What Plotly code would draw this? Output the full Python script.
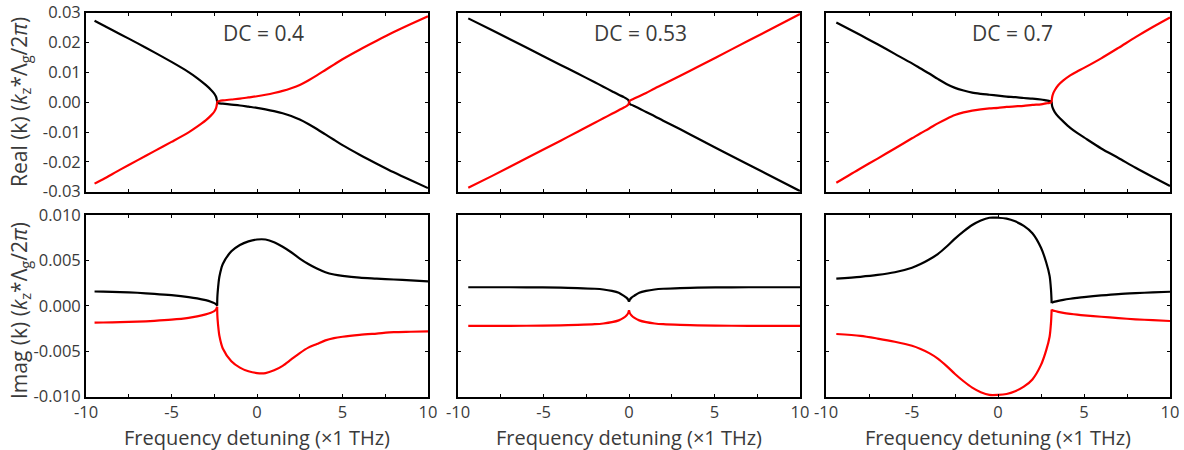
import plotly.graph_objects as go

# ---------------- tick labels / text ----------------
x_tickvals = [-10, -5, 0, 5, 10]
x_ticktext = ["-10", "-5", "0", "5", "10"]
re_tickvals = [-0.03, -0.02, -0.01, 0.0, 0.01, 0.02, 0.03]
re_ticktext = ["-0.03", "-0.02", "-0.01", "0.00", "0.01", "0.02", "0.03"]
im_tickvals = [-0.010, -0.005, 0.0, 0.005, 0.010]
im_ticktext = ["-0.010", "-0.005", "0.000", "0.005", "0.010"]
dc_labels = ["DC = 0.4", "DC = 0.53", "DC = 0.7"]
x_title = "Frequency detuning (×1 THz)"
re_title = "Real (k) (<i>k</i><sub>z</sub>*Λ<sub>g</sub>/2<i>π</i>)"
im_title = "Imag (k) (<i>k</i><sub>z</sub>*Λ<sub>g</sub>/2<i>π</i>)"

# ---------------- DC = 0.4 ----------------
dc04_x_left = [-9.5, -9, -8, -7, -6, -5, -4, -3.5, -3, -2.7, -2.5, -2.4, -2.36, -2.33]
dc04_x_right = [-2.33, -2.32, -2.3, -2.25, -2.2, -2.0, -1.5, -1.0, -0.5, 0.0, 0.5, 1.0, 1.5,
                2.0, 2.5, 3.0, 3.5, 4.0, 4.5, 5.0, 6.0, 7.0, 8.0, 9.0, 10.0]
dc04_re_black_left = [0.0273, 0.0258, 0.0228, 0.0198, 0.0167, 0.0135, 0.0101, 0.0081, 0.0058,
                      0.0042, 0.0029, 0.0019, 0.0011, 0.0001]
dc04_re_black_right = [0.0001, -0.0001, -0.0002, -0.0003, -0.0004, -0.0005, -0.0008, -0.0011,
                       -0.0015, -0.0019, -0.0024, -0.0030, -0.0037, -0.0046, -0.0058, -0.0073,
                       -0.0090, -0.0108, -0.0126, -0.0144, -0.0176, -0.0206, -0.0235, -0.0262, -0.0288]
dc04_re_red_left = [-0.0273, -0.0258, -0.0226, -0.0195, -0.0164, -0.0133, -0.0101, -0.0082,
                    -0.0061, -0.0045, -0.0032, -0.0021, -0.0012, -0.0001]
dc04_re_red_right = [-0.0001, 0.0001, 0.0002, 0.0003, 0.0004, 0.0006, 0.0009, 0.0012, 0.0016,
                     0.0020, 0.0025, 0.0031, 0.0038, 0.0047, 0.0058, 0.0073, 0.0090, 0.0108,
                     0.0126, 0.0144, 0.0176, 0.0206, 0.0235, 0.0262, 0.0288]
dc04_im_black_left = [0.00158, 0.00156, 0.00152, 0.00144, 0.00132, 0.00117, 0.00097, 0.00083,
                      0.00063, 0.00046, 0.0003, 0.00018, 0.0001, 0.0]
dc04_im_black_right = [0.0, 0.0009, 0.0015, 0.0025, 0.0032, 0.0046, 0.0060, 0.0067, 0.0071,
                       0.0073, 0.0073, 0.0070, 0.0065, 0.0059, 0.0052, 0.0046, 0.0041, 0.0037,
                       0.00345, 0.0033, 0.0031, 0.0030, 0.0029, 0.0028, 0.0027]
dc04_im_red_left = [-0.00185, -0.00183, -0.0018, -0.00174, -0.00165, -0.00152, -0.00132, -0.00116,
                    -0.00094, -0.00076, -0.00058, -0.00042, -0.00026, -0.0001]
dc04_im_red_right = [-0.0001, -0.0010, -0.0016, -0.0026, -0.0033, -0.0047, -0.0061, -0.0068,
                     -0.0072, -0.0074, -0.0074, -0.0071, -0.0066, -0.0059, -0.0052, -0.0046,
                     -0.0042, -0.0038, -0.00355, -0.0034, -0.0032, -0.00305, -0.0029, -0.00285, -0.0028]

# ---------------- DC = 0.53 ----------------
dc053_x_left = [-9.4, -8, -6, -4, -3, -2, -1.5, -1, -0.6, -0.3, -0.15, -0.05, 0.0]
dc053_x_right = [0.0, 0.05, 0.15, 0.3, 0.6, 1, 1.5, 2, 3, 4, 6, 8, 10]
dc053_re_black_left = [0.0281, 0.0241, 0.0183, 0.0125, 0.0096, 0.0067, 0.0052, 0.0037, 0.0025,
                       0.0017, 0.0012, 0.0008, 0.0001]
dc053_re_black_right = [0.0001, -0.0006, -0.0009, -0.0013, -0.0021, -0.0033, -0.0047, -0.0062,
                        -0.0091, -0.0121, -0.0180, -0.0239, -0.0298]
dc053_re_red_left = [-0.0287, -0.0247, -0.0188, -0.0129, -0.0099, -0.0069, -0.0054, -0.0039,
                     -0.0027, -0.0018, -0.0013, -0.0009, -0.0001]
dc053_re_red_right = [-0.0001, 0.0005, 0.0008, 0.0012, 0.0020, 0.0031, 0.0046, 0.0060, 0.0089,
                      0.0118, 0.0177, 0.0236, 0.0296]
dc053_im_black_left = [0.00205, 0.00205, 0.00204, 0.0020, 0.00196, 0.00188, 0.0018, 0.00165,
                       0.00145, 0.0011, 0.0009, 0.00068, 0.00045]
dc053_im_black_right = [0.00045, 0.00068, 0.0009, 0.0011, 0.00145, 0.00165, 0.0018, 0.00188,
                        0.00196, 0.0020, 0.00204, 0.00205, 0.00205]
dc053_im_red_left = [-0.0022, -0.0022, -0.00219, -0.00215, -0.0021, -0.00202, -0.00194, -0.0018,
                     -0.0016, -0.0013, -0.00105, -0.0008, -0.00048]
dc053_im_red_right = [-0.00048, -0.0008, -0.00105, -0.0013, -0.0016, -0.0018, -0.00194, -0.00202,
                      -0.0021, -0.00215, -0.00219, -0.0022, -0.0022]

# ---------------- DC = 0.7 ----------------
dc07_x_left = [-9.4, -8, -7, -6, -5, -4.5, -4, -3.5, -3, -2.5, -2, -1.5, -1, -0.5, 0, 0.5, 1, 1.5,
               2, 2.5, 2.8, 3.0, 3.08, 3.12]
dc07_x_right = [3.12, 3.14, 3.2, 3.3, 3.5, 3.8, 4.2, 4.6, 5, 6, 7, 8, 9, 10]
dc07_re_black_left = [0.0267, 0.0225, 0.0194, 0.0162, 0.0130, 0.0113, 0.0096, 0.0078, 0.0061,
                      0.0048, 0.0039, 0.0032, 0.0028, 0.0025, 0.0022, 0.0019, 0.0017, 0.0014,
                      0.0012, 0.0009, 0.0006, 0.0004, 0.0003, 0.0001]
dc07_re_black_right = [0.0001, -0.0011, -0.0022, -0.0033, -0.0048, -0.0065, -0.0086, -0.0103,
                       -0.0118, -0.0155, -0.0187, -0.0220, -0.0251, -0.0281]
dc07_re_red_left = [-0.0270, -0.0222, -0.0189, -0.0155, -0.0121, -0.0104, -0.0088, -0.0071,
                    -0.0056, -0.0043, -0.0034, -0.0028, -0.0024, -0.0021, -0.0019, -0.0016,
                    -0.0014, -0.0012, -0.0009, -0.0007, -0.0004, -0.0002, -0.0001, 0.0001]
dc07_re_red_right = [0.0001, 0.0014, 0.0028, 0.0040, 0.0057, 0.0073, 0.0090, 0.0103, 0.0115,
                     0.0147, 0.0182, 0.0218, 0.0252, 0.0284]
dc07_im_black_left = [0.0030, 0.0032, 0.0034, 0.0037, 0.0042, 0.0046, 0.0051, 0.0057, 0.0065,
                      0.0074, 0.0082, 0.0089, 0.0094, 0.0097, 0.0097, 0.0096, 0.0093, 0.0088,
                      0.0080, 0.0064, 0.0048, 0.0033, 0.0018, 0.0003]
dc07_im_black_right = [0.0003, 0.00035, 0.0004, 0.00046, 0.00055, 0.00066, 0.00078, 0.00088,
                       0.00097, 0.00115, 0.0013, 0.0014, 0.00148, 0.00155]
dc07_im_red_left = [-0.0031, -0.0033, -0.0036, -0.00395, -0.0044, -0.00475, -0.0052, -0.0058,
                    -0.0066, -0.0075, -0.0083, -0.0090, -0.0095, -0.0098, -0.0098, -0.0097,
                    -0.0094, -0.0089, -0.0081, -0.0065, -0.0049, -0.0034, -0.0019, -0.0004]
dc07_im_red_right = [-0.0004, -0.00045, -0.0005, -0.00057, -0.00066, -0.00077, -0.00088,
                     -0.00097, -0.00105, -0.0012, -0.00135, -0.00148, -0.00158, -0.00167]

BLACK = "#000000"
RED = "#ff0000"
TEXT = "#3a3a3a"
FONT = "Open Sans"

panels = [
    ("x", "y", dc04_x_left, dc04_x_right,
     [(dc04_re_black_left, dc04_re_black_right, BLACK), (dc04_re_red_left, dc04_re_red_right, RED)]),
    ("x2", "y2", dc053_x_left, dc053_x_right,
     [(dc053_re_black_left, dc053_re_black_right, BLACK), (dc053_re_red_left, dc053_re_red_right, RED)]),
    ("x3", "y3", dc07_x_left, dc07_x_right,
     [(dc07_re_black_left, dc07_re_black_right, BLACK), (dc07_re_red_left, dc07_re_red_right, RED)]),
    ("x4", "y4", dc04_x_left, dc04_x_right,
     [(dc04_im_black_left, dc04_im_black_right, BLACK), (dc04_im_red_left, dc04_im_red_right, RED)]),
    ("x5", "y5", dc053_x_left, dc053_x_right,
     [(dc053_im_black_left, dc053_im_black_right, BLACK), (dc053_im_red_left, dc053_im_red_right, RED)]),
    ("x6", "y6", dc07_x_left, dc07_x_right,
     [(dc07_im_black_left, dc07_im_black_right, BLACK), (dc07_im_red_left, dc07_im_red_right, RED)]),
]

fig = go.Figure()
for xa, ya, xl, xr, curves in panels:
    for yl, yr, col in curves:
        for xs, ys in ((xl, yl), (xr, yr)):
            fig.add_trace(go.Scatter(
                x=xs, y=ys, xaxis=xa, yaxis=ya, mode="lines",
                line=dict(color=col, width=2.2, shape="spline", smoothing=0.8),
                showlegend=False, hoverinfo="skip"))

W, H = 1184, 450
col_px = [(86, 428), (458, 800), (826, 1170)]
row_px = [(12.7, 191.7), (215, 396.7)]

def xdom(c):
    return [col_px[c][0] / W, col_px[c][1] / W]

def ydom(r):
    return [1 - row_px[r][1] / H, 1 - row_px[r][0] / H]

layout = dict(
    width=W, height=H,
    margin=dict(l=0, r=0, t=0, b=0, autoexpand=False),
    paper_bgcolor="white", plot_bgcolor="white",
    font=dict(family=FONT, color=TEXT, size=16),
    showlegend=False,
)

common_ax = dict(showline=True, linecolor=BLACK, linewidth=1.8, mirror="allticks",
                 ticks="inside", ticklen=3, tickwidth=1.2, tickcolor=BLACK,
                 showgrid=False, zeroline=False, automargin=False,
                 tickfont=dict(family=FONT, size=16.5, color=TEXT))

for i in range(6):
    r, c = divmod(i, 3)
    n = "" if i == 0 else str(i + 1)
    xax = dict(common_ax, domain=xdom(c), range=[-10, 10], anchor="y" + n,
               tickvals=x_tickvals, ticktext=x_ticktext, showticklabels=(r == 1),
               minor=dict(dtick=2.5, tick0=0, ticks="inside", ticklen=3, tickcolor=BLACK, tickwidth=1.2))
    if r == 0:
        yax = dict(common_ax, domain=ydom(r), range=[-0.03, 0.03], anchor="x" + n,
                   tickvals=re_tickvals, ticktext=re_ticktext, showticklabels=(c == 0))
    else:
        yax = dict(common_ax, domain=ydom(r), range=[-0.010, 0.010], anchor="x" + n,
                   tickvals=im_tickvals, ticktext=im_ticktext, showticklabels=(c == 0))
    layout["xaxis" + n] = xax
    layout["yaxis" + n] = yax

annotations = []
dc_pos = [0.519, 0.534, 0.541]
for c in range(3):
    n = "" if c == 0 else str(c + 1)
    annotations.append(dict(text=dc_labels[c], xref="x" + n + " domain", yref="y" + n + " domain",
                            x=dc_pos[c], y=0.888, showarrow=False, xanchor="center", yanchor="middle",
                            font=dict(family=FONT, size=21, color=TEXT)))
    cx = (col_px[c][0] + col_px[c][1]) / 2 / W
    annotations.append(dict(text=x_title, xref="paper", yref="paper", x=cx, y=1 - 437 / H,
                            showarrow=False, xanchor="center", yanchor="middle",
                            font=dict(family=FONT, size=20, color=TEXT)))
annotations.append(dict(text=re_title, xref="paper", yref="paper", x=20 / W,
                        y=1 - 102 / H, textangle=-90, showarrow=False,
                        xanchor="center", yanchor="middle",
                        font=dict(family=FONT, size=21, color=TEXT)))
annotations.append(dict(text=im_title, xref="paper", yref="paper", x=20 / W,
                        y=1 - 311 / H, textangle=-90, showarrow=False,
                        xanchor="center", yanchor="middle",
                        font=dict(family=FONT, size=21, color=TEXT)))
layout["annotations"] = annotations

fig.update_layout(**layout)
fig.write_html("out.html", config={"displayModeBar": False},
               post_script="document.body.style.margin='0';document.body.style.padding='0';")
